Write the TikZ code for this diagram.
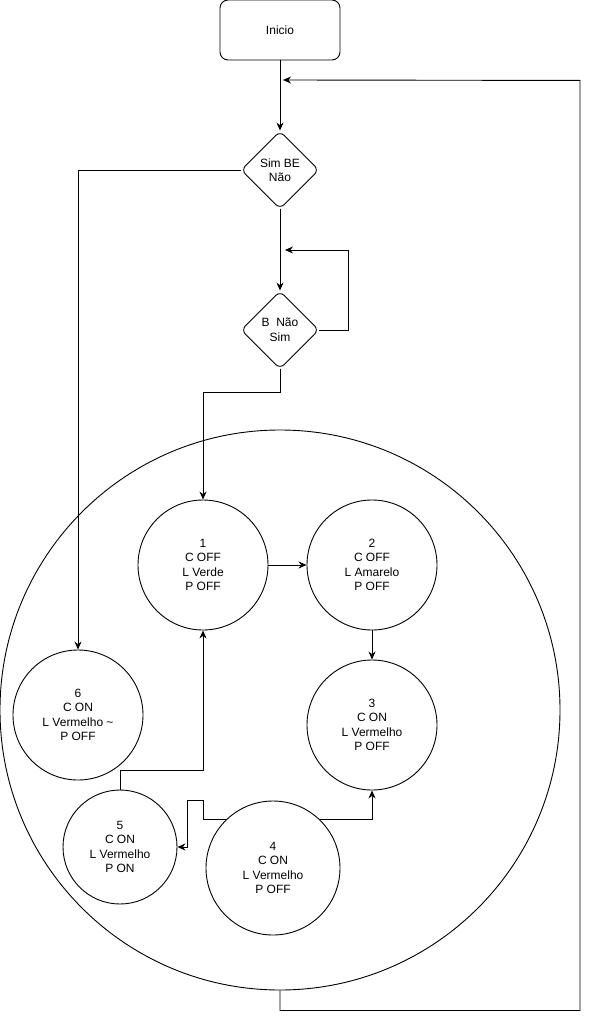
\documentclass[tikz,border=0pt]{standalone}
\usepackage{fontspec}
\setmainfont{Liberation Sans}
\usetikzlibrary{arrows.meta, shapes.geometric}

\begin{document}
\begin{tikzpicture}[x=1pt, y=-1pt, >={Stealth[length=8pt, width=7pt]}, line width=0.9pt,
    every node/.style={font=\fontsize{12}{14.5}\selectfont, align=center},
    state/.style={draw, circle, minimum size=130pt, inner sep=0pt},
    decision/.style={draw, diamond, minimum width=78pt, minimum height=78pt, inner sep=0pt, rounded corners=6pt}]
  \useasboundingbox (0,0) rectangle (590,1019);
  % Start and decisions
  \node[draw, rounded corners=8pt, minimum width=120pt, minimum height=60pt] (inicio) at (280,30) {Inicio};
  \node[decision] (d1) at (280,170) {Sim BE\\Não};
  \node[decision] (d2) at (280,330) {B~~Não\\Sim};
  \coordinate (back) at (283,80);
  \coordinate (loop) at (285,250);
  % Outer cycle
  \node[draw, circle, minimum size=560pt, inner sep=0pt] (big) at (280,710) {};
  % States
  \node[state] (c1) at (203,565) {1\\C OFF\\L Verde\\P OFF};
  \node[state] (c2) at (372,565) {2\\C OFF\\L Amarelo\\P OFF};
  \node[state] (c3) at (372,725) {3\\C ON\\L Vermelho\\P OFF};
  \node[state, minimum size=134pt] (c4) at (273,868) {4\\C ON\\L Vermelho\\P OFF};
  \node[state, minimum size=114pt] (c5) at (120,847) {5\\C ON\\L Vermelho\\P ON};
  \node[state] (c6) at (78,715) {6\\C ON\\L Vermelho \textasciitilde\\P OFF};
  % Connectors
  \draw[->] (inicio) -- (d1);
  \draw[->] (d1) -- (d2);
  \draw[->] (d1.west) -| (c6.north);
  \draw[->] (d2.east) -- ++(29,0) |- (loop);
  \draw[->] (d2.south) -- ++(0,23) -| (c1.north);
  \draw[->] (c1) -- (c2);
  \draw[->] (c2) -- (c3);
  \draw[->] (c4.46) -| (c3.south);
  \draw[->] (c4.134) -- ++(-23,0) -- ++(0,-19) -| ([xshift=10pt]c5.east) -- (c5.east);
  \draw[->] (c5.north) -- ++(0,-19) -| (c1.south);
  \draw[->] (big.south) -- ++(0,20) -| ++(300,-930) -- (back);
\end{tikzpicture}
\end{document}
